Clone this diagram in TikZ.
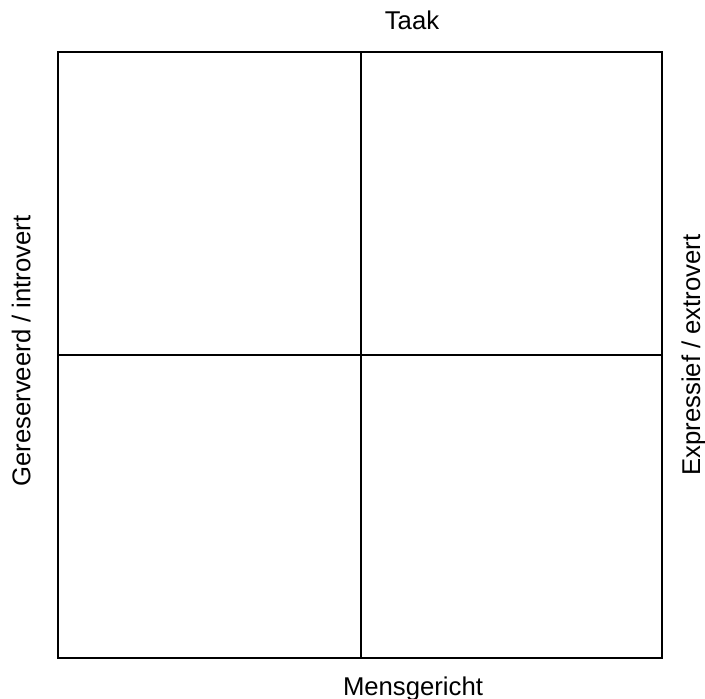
\documentclass[tikz,border=0pt]{standalone}
\usepackage{fontspec}
\setmainfont{Liberation Sans}
\begin{document}
\begin{tikzpicture}[x=1pt,y=-1pt,
  lbl/.style={inner sep=0pt,anchor=base,font=\fontsize{25.7}{30}\selectfont},
  gridline/.style={line width=2pt,draw=black}]
\useasboundingbox (0,0) rectangle (705,699);
\coordinate (tl) at (58,51.5);
\coordinate (br) at (662,658);
\coordinate (mt) at (360.5,51.5);
\coordinate (mb) at (360.5,658);
\coordinate (ml) at (58,354.5);
\coordinate (mr) at (662,354.5);
\draw[gridline] (tl) rectangle (br);
\draw[gridline] (mt) -- (mb);
\draw[gridline] (ml) -- (mr);
\node[lbl] (top) at (412,29) {Taak};
\node[lbl] (bottom) at (413,695) {Mensgericht};
\node[lbl,rotate=90] (left) at (30.5,351) {Gereserveerd / introvert};
\node[lbl,rotate=90] (right) at (700,355) {Expressief / extrovert};
\end{tikzpicture}
\end{document}
